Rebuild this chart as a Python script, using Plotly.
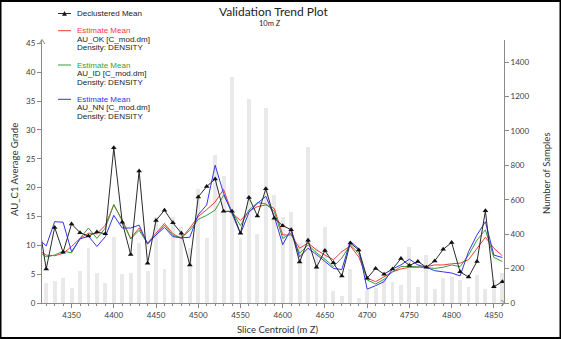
import plotly.graph_objects as go

# ---------------- data ----------------
centroid = [4310, 4320, 4330, 4340, 4350, 4360, 4370, 4380, 4390, 4400,
            4410, 4420, 4430, 4440, 4450, 4460, 4470, 4480, 4490, 4500,
            4510, 4520, 4530, 4540, 4550, 4560, 4570, 4580, 4590, 4600,
            4610, 4620, 4630, 4640, 4650, 4660, 4670, 4680, 4690, 4700,
            4710, 4720, 4730, 4740, 4750, 4760, 4770, 4780, 4790, 4800,
            4810, 4820, 4830, 4840, 4850, 4860]

declustered_mean = [15.0, 5.9, 13.1, 8.8, 13.7, 12.2, 11.6, 12.3, 12.0, 26.9,
                    14.0, 8.4, 22.9, 6.9, 14.3, 16.1, 13.9, 12.1, 6.6, 18.4,
                    20.2, 21.5, 15.9, 15.9, 12.1, 18.3, 15.1, 19.8, 14.7, 13.4,
                    12.7, 7.1, 10.9, 6.2, 9.1, 7.0, 4.7, 10.4, 9.2, 4.3,
                    6.0, 5.0, 5.9, 7.7, 6.5, 7.2, 6.2, 7.3, 9.3, 10.5,
                    5.4, 4.5, 7.2, 16.0, 2.8, 3.7]

est_ok = [9.3, 8.3, 8.2, 8.6, 9.8, 11.2, 12.1, 12.0, 13.5, 17.0,
          14.4, 11.2, 13.0, 10.4, 12.1, 13.8, 12.0, 11.2, 13.0, 15.0,
          16.2, 17.5, 19.7, 15.6, 14.3, 15.9, 16.7, 17.0, 16.4, 11.8,
          11.8, 9.5, 10.4, 9.2, 8.3, 7.5, 8.9, 9.9, 8.0, 4.3,
          3.7, 4.6, 5.4, 5.9, 6.2, 6.2, 6.3, 6.6, 6.6, 6.8,
          6.9, 7.5, 9.5, 11.4, 9.5, 8.2]

est_id = [9.0, 8.0, 8.3, 9.0, 8.7, 11.2, 13.0, 11.2, 13.0, 17.1,
          14.2, 11.1, 12.6, 10.3, 11.8, 13.5, 11.7, 11.3, 12.6, 14.5,
          15.2, 16.1, 18.7, 15.9, 13.4, 16.1, 17.4, 17.2, 15.9, 11.2,
          12.1, 8.6, 10.1, 8.7, 7.6, 6.3, 7.8, 10.1, 8.6, 4.0,
          3.3, 4.1, 5.4, 6.3, 6.4, 6.3, 6.2, 6.0, 6.2, 6.6,
          6.3, 8.3, 10.9, 12.7, 7.9, 7.2]

est_nn = [11.2, 9.9, 14.1, 14.0, 8.9, 11.1, 11.6, 9.8, 11.5, 15.2,
          13.0, 13.0, 13.5, 10.2, 11.8, 13.1, 11.5, 11.3, 11.4, 15.3,
          17.0, 23.9, 19.0, 15.6, 12.0, 15.7, 17.3, 18.5, 15.0, 10.1,
          12.8, 8.0, 9.5, 8.4, 7.2, 6.0, 5.8, 10.7, 9.4, 2.4,
          3.0, 3.7, 5.9, 6.6, 7.6, 6.6, 6.2, 5.6, 5.4, 5.2,
          4.7, 8.9, 11.8, 14.1, 8.3, 7.9]

num_samples = [None, 115, 128, 147, 85, 188, 318, 172, 118, 382,
               168, 172, 350, 186, 500, 196, 500, 440, 320, 663,
               378, 860, 738, 1311, 380, 1185, 401, 1135, 627, 501,
               531, 350, 905, 320, 443, 70, 41, 198, 27, 76,
               90, 140, 124, 107, 325, 91, 279, 80, 143, 153,
               134, 91, 160, 80, 135, 176]

x_ticks = [4350, 4400, 4450, 4500, 4550, 4600, 4650, 4700, 4750, 4800, 4850]
grade_ticks = [0, 5, 10, 15, 20, 25, 30, 35, 40, 45]
sample_ticks = [0, 200, 400, 600, 800, 1000, 1200, 1400]

# ---------------- layout geometry ----------------
W, H = 561, 339
ML, MR, MT, MB = 42, 57, 40, 36
PW, PH = W - ML - MR, H - MT - MB


def px(x):
    return (x - ML) / PW


def py(y):
    return (H - MB - y) / PH


RED, GREEN, BLUE, BLACK = "#f03c3c", "#3c9c3c", "#3434ee", "#2a2a2a"
AXIS = "#8a8a8a"
TICKFONT = dict(family="Lato", size=8, color="#404040")

fig = go.Figure()

fig.add_trace(go.Bar(
    x=centroid, y=num_samples, width=4.6, yaxis="y",
    marker=dict(color="#ebebeb", line=dict(width=0),
                pattern=dict(shape=".", fgcolor="#c9c9c9", bgcolor="#efefef",
                             size=2, solidity=0.35)),
    name="Number of Samples"))

for vals, col, nm in [(est_ok, RED, "AU_OK"), (est_id, GREEN, "AU_ID"), (est_nn, BLUE, "AU_NN")]:
    fig.add_trace(go.Scatter(x=centroid, y=vals, mode="lines", yaxis="y2",
                             line=dict(color=col, width=1), name=nm))

fig.add_trace(go.Scatter(x=centroid, y=declustered_mean, mode="lines+markers", yaxis="y2",
                         line=dict(color=BLACK, width=1),
                         marker=dict(symbol="triangle-up", size=5, color="#111111"),
                         name="Declustered Mean"))

fig.update_layout(
    width=W, height=H,
    margin=dict(l=ML, r=MR, t=MT, b=MB, pad=0),
    paper_bgcolor="white", plot_bgcolor="white",
    showlegend=False, bargap=0,
    xaxis=dict(range=[4315, 4862], tickvals=x_ticks, ticks="outside", ticklen=4,
               tickcolor=AXIS, showline=True, linecolor=AXIS, linewidth=1,
               showgrid=False, zeroline=False, tickfont=TICKFONT,
               minor=dict(dtick=10, tick0=4310, ticks="outside", ticklen=2, tickcolor=AXIS)),
    yaxis=dict(range=[0, 1528], tickvals=sample_ticks, side="right", ticks="outside",
               ticklen=4, tickcolor=AXIS, showline=True, linecolor=AXIS, linewidth=1,
               showgrid=False, zeroline=False, tickfont=TICKFONT),
    yaxis2=dict(range=[0, 45.6], tickvals=grade_ticks, side="left", overlaying="y",
                ticks="outside", ticklen=4, tickcolor=AXIS, showline=True, linecolor=AXIS,
                linewidth=1, showgrid=False, zeroline=False, tickfont=TICKFONT),
)

ann = []


def text(x, y, s, size=8, color="#222", family="Liberation Sans", xanchor="left", angle=0):
    ann.append(dict(x=px(x), y=py(y), xref="paper", yref="paper", text=s, showarrow=False,
                    xanchor=xanchor, yanchor="middle", textangle=angle,
                    font=dict(family=family, size=size, color=color)))


text(274, 12, "Validation Trend Plot", size=12, color="#222", family="Lato", xanchor="center")
text(270, 24, "10m Z", size=7.5, color="#222", family="Lato", xanchor="center")
text(14, 170, "AU_C1 Average Grade", size=9.5, color="#333", family="Lato", xanchor="center", angle=-90)
text(546, 173, "Number of Samples", size=9.5, color="#333", family="Lato", xanchor="center", angle=-90)
text(278, 329, "Slice Centroid (m Z)", size=9.5, color="#333", family="Lato", xanchor="center")

# legend texts
text(75, 13.5, "Declustered Mean")
groups = [(RED, "AU_OK [C_mod.dm]", 30.7), (GREEN, "AU_ID [C_mod.dm]", 65), (BLUE, "AU_NN [C_mod.dm]", 99.3)]
for col, lbl, y0 in groups:
    text(75, y0, "Estimate Mean", color=col)
    text(75, y0 + 8.5, lbl)
    text(75, y0 + 17, "Density: DENSITY")

shapes = []
shapes.append(dict(type="line", xref="paper", yref="paper", x0=px(58), x1=px(71),
                   y0=py(13.5), y1=py(13.5), line=dict(color=BLACK, width=1)))
shapes.append(dict(type="path", xref="paper", yref="paper",
                   path=f"M {px(62.5)} {py(15.5)} L {px(64.5)} {py(11.5)} L {px(66.5)} {py(15.5)} Z",
                   fillcolor="#111", line=dict(color="#111", width=0.5)))
for col, lbl, y0 in groups:
    shapes.append(dict(type="line", xref="paper", yref="paper", x0=px(58), x1=px(71),
                       y0=py(y0), y1=py(y0), line=dict(color=col, width=1)))

# axis arrow heads
shapes.append(dict(type="path", xref="paper", yref="paper",
                   path=f"M {px(39)} {py(44)} L {px(42)} {py(39.5)} L {px(45)} {py(44)}",
                   line=dict(color=AXIS, width=1)))
shapes.append(dict(type="path", xref="paper", yref="paper",
                   path=f"M {px(501)} {py(300)} L {px(505)} {py(303)} L {px(501)} {py(306)}",
                   line=dict(color=AXIS, width=1)))
# outer frame
shapes.append(dict(type="rect", xref="paper", yref="paper", x0=px(0.5), x1=px(W - 0.5),
                   y0=py(H - 1), y1=py(1), line=dict(color="black", width=2)))

fig.update_layout(annotations=ann, shapes=shapes)
fig.write_html("out.html")
